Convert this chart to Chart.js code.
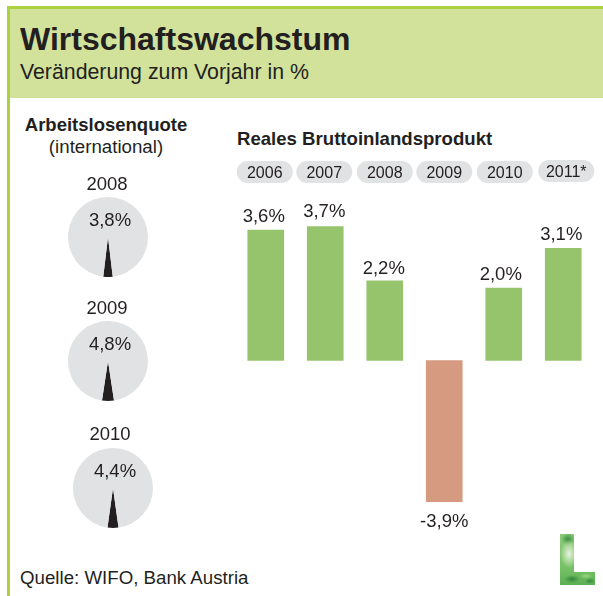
<!DOCTYPE html>
<html><head><meta charset="utf-8">
<script src="https://cdn.jsdelivr.net/npm/chart.js@4"></script>
<style>
html,body{margin:0;padding:0;background:#fff}
body{width:603px;height:596px;position:relative;overflow:hidden;font-family:"Liberation Sans",Arial,sans-serif;color:#231f20}
.abs{position:absolute;white-space:nowrap}
.c{transform:translateX(-50%)}
canvas{position:absolute;display:block}
#leftline{left:7px;top:6px;width:3px;height:590px;background:#a9d140}
#topline{left:7px;top:6px;width:596px;height:3px;background:#a9d140}
#head{left:10px;top:9px;width:593px;height:89px;background:#d2e29b}
#logo{left:560px;top:534px;width:35px;height:51px;
 background:
  radial-gradient(ellipse 9px 14px at 9px 20px,rgba(238,246,228,.95) 0,rgba(238,246,228,0) 100%),
  radial-gradient(ellipse 7px 6px at 8px 5px,rgba(45,135,55,.85) 0,rgba(45,135,55,0) 100%),
  radial-gradient(ellipse 8px 4px at 12px 45px,rgba(35,125,50,.8) 0,rgba(35,125,50,0) 100%),
  radial-gradient(ellipse 7px 3px at 26px 42px,rgba(170,220,140,.8) 0,rgba(170,220,140,0) 100%),
  radial-gradient(ellipse 5px 3px at 30px 47px,rgba(40,130,55,.8) 0,rgba(40,130,55,0) 100%),
  linear-gradient(180deg,#8ccb7a,#74bf63 70%,#5cae55);
 clip-path:polygon(0 0,14px 0,14px 38px,35px 38px,35px 51px,0 51px)}
</style></head><body>
<div class="abs" id="leftline"></div><div class="abs" id="topline"></div><div class="abs" id="head"></div>
<div class="abs" style="left:20px;top:21px;font-size:32px;font-weight:bold;line-height:36px">Wirtschaftswachstum</div>
<div class="abs" style="left:20px;top:60px;font-size:21.3px;line-height:24px">Veränderung zum Vorjahr in %</div>
<div class="abs c" style="left:106px;top:115px;font-size:18.5px;font-weight:bold;line-height:20px">Arbeitslosenquote</div>
<div class="abs c" style="left:106px;top:137px;font-size:18.7px;line-height:20px">(international)</div>
<div class="abs" style="left:237px;top:129px;font-size:18.6px;font-weight:bold;line-height:20px">Reales Bruttoinlandsprodukt</div>
<div class="abs" style="left:20px;top:568px;font-size:18.7px;line-height:20px">Quelle: WIFO, Bank Austria</div>
<div class="abs" id="logo"></div>
<canvas id="bars" width="603" height="596" style="left:0;top:0"></canvas>
<script>
const categories=['2006','2007','2008','2009','2010','2011*'];
const gdpValues=[3.6,3.7,2.2,-3.9,2.0,3.1];
const gaugeYears=['2008','2009','2010'];
const gaugeValues=[3.8,4.8,4.4];
const gaugeCentres=[[108,237],[108,361],[113,488]];
const tickNudgeX=[-1,-1,0,0,1,3];
const tickNudgeY=[1,1,1,1,1,0];
const pillNudgeY=[0,0,0,0,0,-1];
const labelNudgeX=[-2,-1,-1,0,-3,-2];
const labelNudgeY=[-13,-15,-12,20,-13,-13];
const deco=(v)=>v.toFixed(1).replace('.',',')+'%';

Chart.defaults.animation=false;
Chart.defaults.font.family='"Liberation Sans",Arial,sans-serif';

const pillAndLabel={id:'pillAndLabel',
 beforeDraw(c){
  const x=c.scales.x,ctx=c.ctx;
  const items=x.getLabelItems();
  if(!x._nudged){items.forEach((it,i)=>{it.options.translation[0]+=tickNudgeX[i];it.options.translation[1]+=tickNudgeY[i];});x._nudged=true;}
  ctx.save();ctx.fillStyle='#e1e2e3';
  categories.forEach((_,i)=>{const cx=x.getPixelForTick(i)+tickNudgeX[i],w=56,h=22,y=161+pillNudgeY[i];
   ctx.beginPath();ctx.roundRect(cx-w/2,y,w,h,11);ctx.fill();});
  ctx.restore();
 },
 afterDatasetsDraw(c){
  const m=c.getDatasetMeta(0),ctx=c.ctx;ctx.save();
  ctx.fillStyle='#231f20';ctx.font='18.5px "Liberation Sans",Arial,sans-serif';ctx.textAlign='center';ctx.textBaseline='middle';
  m.data.forEach((b,i)=>{const v=gdpValues[i];
   ctx.fillText(deco(v),b.x+labelNudgeX[i],b.y+labelNudgeY[i]);
  });ctx.restore();
 }};
new Chart(document.getElementById('bars'),{type:'bar',
 data:{labels:categories,datasets:[{data:gdpValues,
  backgroundColor:gdpValues.map(v=>v<0?'#d69a80':'#96c46c'),barThickness:36,borderWidth:0}]},
 options:{responsive:false,
  layout:{padding:{left:236,right:10,top:162,bottom:36}},
  plugins:{legend:{display:false},tooltip:{enabled:false}},
  scales:{
   x:{position:'top',grid:{display:false,drawTicks:false},border:{display:false},
      afterFit(s){s.height=20;},
      ticks:{color:'#231f20',font:{size:16},padding:0,autoSkip:false,maxRotation:0}},
   y:{display:false,min:-5.512,max:4.93}}},
 plugins:[pillAndLabel]});

gaugeYears.forEach((yr,i)=>{
 const [cx,cy]=gaugeCentres[i],v=gaugeValues[i],S=84;
 const cv=document.createElement('canvas');cv.width=S;cv.height=S;
 cv.style.left=(cx-S/2)+'px';cv.style.top=(cy-S/2)+'px';document.body.appendChild(cv);
 new Chart(cv,{type:'pie',
  data:{labels:[yr,''],datasets:[{data:[v,100-v],backgroundColor:['#231f20','#e1e2e3'],borderWidth:0}]},
  options:{responsive:false,layout:{padding:2},rotation:180-v*3.6/2,
   plugins:{legend:{display:false},tooltip:{enabled:false}}}});
 const t=document.createElement('div');t.className='abs c';t.textContent=yr;
 t.style.cssText=`left:${cx-1-(i==2?2:0)}px;top:${cy-(i==2?64:63)}px;font-size:18.5px;line-height:20px`;document.body.appendChild(t);
 const p=document.createElement('div');p.className='abs c';p.textContent=deco(v);
 p.style.cssText=`left:${cx+2}px;top:${cy-27}px;font-size:18.5px;line-height:20px`;document.body.appendChild(p);
});
</script></body></html>
